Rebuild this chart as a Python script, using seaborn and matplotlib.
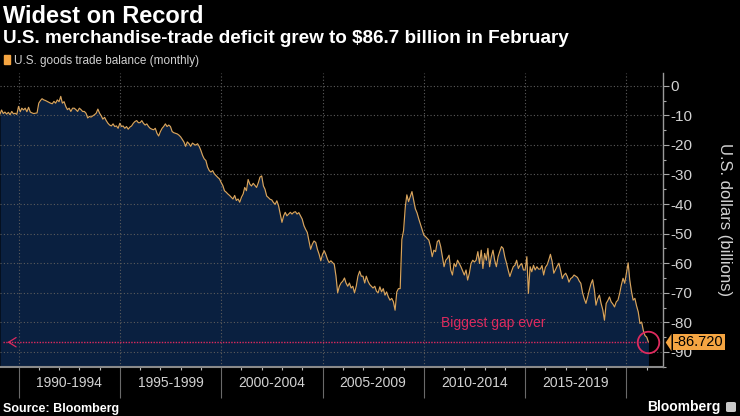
import matplotlib
matplotlib.use("Agg")

import matplotlib.pyplot as plt
import matplotlib.transforms as mtransforms
import matplotlib.dates as mdates
from matplotlib.patches import Patch, FancyBboxPatch
import pandas as pd
import seaborn as sns

# -----------------------------
# DATA (U.S. goods trade balance, monthly, billions of dollars)
# -----------------------------
bal_1989 = [-9.6, -8.2, -9.4, -8.9, -9.6, -9.0, -9.8, -8.7, -9.5, -9.3, -9.7]  # Feb-Dec
bal_1990 = [-7.0, -8.8, -7.6, -8.2, -7.6, -8.8, -7.3, -8.9, -9.2, -9.4, -9.3, -9.2]
bal_1991 = [-5.9, -5.0, -4.4, -4.8, -5.0, -5.3, -5.6, -5.9, -6.1, -5.3, -5.9, -4.8]
bal_1992 = [-5.4, -3.6, -5.9, -5.4, -7.0, -8.1, -7.6, -8.7, -7.6, -7.6, -8.1, -8.7]
bal_1993 = [-7.6, -8.1, -8.7, -8.7, -9.3, -10.9, -10.4, -10.6, -10.2, -9.8, -9.3, -7.9]
bal_1994 = [-9.3, -10.2, -11.3, -10.7, -11.8, -12.7, -13.3, -13.6, -12.9, -13.8, -13.6, -14.4]
bal_1995 = [-12.7, -13.8, -13.6, -14.4, -13.8, -14.7, -14.0, -13.6, -12.7, -12.1, -11.8, -12.5]
bal_1996 = [-12.5, -11.8, -12.7, -13.3, -12.9, -13.8, -14.4, -14.7, -14.9, -14.4, -16.1, -17.0]
bal_1997 = [-15.5, -14.4, -13.8, -12.9, -13.8, -13.3, -13.8, -15.5, -15.9, -16.1, -16.3, -16.7]
bal_1998 = [-17.3, -18.2, -19.0, -20.5, -19.0, -19.6, -20.5, -19.4, -19.8, -20.1, -19.6, -20.5]
bal_1999 = [-21.9, -23.6, -24.7, -25.3, -27.5, -28.7, -29.2, -28.7, -29.8, -30.4, -31.0, -31.5]
bal_2000 = [-32.7, -33.8, -35.5, -36.0, -36.6, -37.1, -37.7, -38.3, -37.1, -38.8, -38.3, -39.4]
bal_2001 = [-37.7, -36.6, -34.4, -35.5, -31.7, -33.3, -33.9, -33.0, -33.7, -34.4, -32.8, -30.9]
bal_2002 = [-30.5, -33.9, -35.0, -37.3, -37.8, -38.4, -38.6, -39.5, -40.1, -38.9, -40.6, -43.4]
bal_2003 = [-46.2, -44.0, -42.8, -44.0, -43.4, -42.8, -43.4, -42.8, -42.6, -43.4, -42.9, -44.0]
bal_2004 = [-45.1, -47.3, -48.5, -49.6, -52.5, -55.3, -53.6, -52.5, -53.0, -55.3, -57.0, -59.2]
bal_2005 = [-57.0, -55.8, -57.0, -58.7, -59.8, -59.2, -59.8, -60.4, -64.4, -70.0, -67.8, -66.7]
bal_2006 = [-66.1, -65.0, -66.7, -67.8, -66.7, -68.4, -67.8, -70.0, -67.8, -64.4, -62.7, -64.4]
bal_2007 = [-64.4, -66.7, -64.4, -66.1, -67.2, -67.8, -68.4, -67.8, -69.5, -70.0, -68.0, -69.7]
bal_2008 = [-68.6, -70.8, -69.7, -71.4, -72.5, -71.9, -73.0, -75.9, -69.7, -68.6, -68.6, -52.0]
bal_2009 = [-49.0, -41.0, -36.9, -39.2, -37.5, -35.8, -38.6, -41.6, -43.0, -45.0, -46.8, -48.6]
bal_2010 = [-50.5, -51.0, -51.6, -52.2, -54.4, -57.8, -55.6, -56.1, -52.7, -52.2, -54.4, -57.8]
bal_2011 = [-61.2, -59.0, -58.4, -57.3, -62.3, -64.0, -60.1, -61.2, -59.0, -60.1, -61.2, -62.6]
bal_2012 = [-64.0, -62.3, -65.7, -63.4, -60.1, -59.0, -59.6, -59.0, -56.1, -60.1, -55.6, -61.8]
bal_2013 = [-56.7, -59.0, -55.0, -61.2, -57.8, -55.6, -59.0, -61.2, -57.8, -56.0, -54.4, -55.0]
bal_2014 = [-58.0, -60.1, -62.3, -64.5, -62.8, -61.2, -60.7, -59.0, -61.8, -60.7, -60.1, -62.3]
bal_2015 = [-62.3, -57.8, -70.2, -61.2, -62.9, -60.7, -62.3, -61.2, -62.0, -62.0, -60.8, -64.0]
bal_2016 = [-61.4, -60.6, -59.0, -57.0, -59.4, -63.4, -62.2, -61.0, -60.0, -62.4, -65.2, -64.0]
bal_2017 = [-63.4, -64.6, -66.4, -65.2, -64.8, -64.0, -64.4, -64.8, -66.0, -66.8, -70.0, -72.0]
bal_2018 = [-73.6, -71.4, -69.2, -67.0, -65.6, -69.0, -74.2, -72.0, -70.8, -73.6, -75.8, -79.3]
bal_2019 = [-73.6, -72.6, -71.4, -73.1, -73.8, -74.8, -73.1, -72.5, -70.2, -67.4, -65.1, -66.8]
bal_2020 = [-63.4, -59.9, -65.7, -69.6, -72.5, -71.9, -74.4, -76.5, -80.4, -79.9, -82.8, -84.5]
bal_2021 = [-85.0, -86.72]  # Jan-Feb

first_month = "1989-02-01"

period_starts = [1990, 1995, 2000, 2005, 2010, 2015]
period_labels = ["1990-1994", "1995-1999", "2000-2004", "2005-2009", "2010-2014", "2015-2019"]

ytick_values = [0, -10, -20, -30, -40, -50, -60, -70, -80, -90]
ytick_labels = ["0", "-10", "-20", "-30", "-40", "-50", "-60", "-70", "-80", "-90"]

# -----------------------------
# STYLE
# -----------------------------
BG = "black"
FILL = "#0a2040"
LINE = "#d9a45c"
ORANGE = "#f5a542"
RED = "#de2a5e"
TXT = "#d2d2d2"

balance = (bal_1989 + bal_1990 + bal_1991 + bal_1992 + bal_1993 + bal_1994 + bal_1995
           + bal_1996 + bal_1997 + bal_1998 + bal_1999 + bal_2000 + bal_2001 + bal_2002
           + bal_2003 + bal_2004 + bal_2005 + bal_2006 + bal_2007 + bal_2008 + bal_2009
           + bal_2010 + bal_2011 + bal_2012 + bal_2013 + bal_2014 + bal_2015 + bal_2016
           + bal_2017 + bal_2018 + bal_2019 + bal_2020 + bal_2021)
df = pd.DataFrame({
    "month": pd.date_range(first_month, periods=len(balance), freq="MS"),
    "balance": balance,
})

sns.set_theme(style="ticks")
plt.rcParams["font.family"] = ["Liberation Sans", "DejaVu Sans"]
plt.rcParams["axes.unicode_minus"] = False

fig = plt.figure(figsize=(7.4, 4.16), dpi=100, facecolor=BG)
ax = fig.add_axes([0, 49 / 416, 663 / 740, 294 / 416])
ax.set_facecolor(BG)

y_bottom, y_top = -95.1, 4.3
ax.fill_between(df["month"], df["balance"], y_bottom, color=FILL, lw=0, zorder=0.3)
sns.lineplot(data=df, x="month", y="balance", ax=ax, color=LINE, linewidth=0.85, zorder=2)

ax.set_xlim(pd.Timestamp(first_month), pd.Timestamp("2021-10-21"))
ax.set_ylim(y_bottom, y_top)
ax.set_xlabel("")

# x axis: 5-year blocks with long separators, yearly minor ticks
major_x = pd.to_datetime([f"{y}-01-01" for y in range(1990, 2021, 5)])
minor_x = pd.to_datetime([f"{y}-01-01" for y in range(1990, 2022)])
ax.set_xticks(major_x)
ax.set_xticklabels([])
ax.set_xticks(minor_x, minor=True)
ax.tick_params(axis="x", which="major", length=22, width=0.8, color="#6a6a6a", direction="out")
ax.tick_params(axis="x", which="minor", length=2.5, width=0.8, color="#bbbbbb", direction="out")

trans = mtransforms.blended_transform_factory(ax.transData, ax.transAxes)
for start, lab in zip(period_starts, period_labels):
    mid = mdates.date2num(pd.Timestamp(f"{start + 2}-07-01"))
    ax.text(mid, -0.054, lab, transform=trans, ha="center", va="center",
            color=TXT, fontsize=10)

# y axis on the right
ax.yaxis.tick_right()
ax.set_yticks(ytick_values, ytick_labels)
ax.set_yticks([v - 5 for v in ytick_values], minor=True)
ax.tick_params(axis="y", which="major", length=4, width=0.8, color="#aaaaaa",
               labelcolor=TXT, labelsize=11, pad=1.5, direction="out")
ax.tick_params(axis="y", which="minor", length=2.5, width=0.8, color="#aaaaaa", direction="out")
ax.set_ylabel("U.S. dollars (billions)", fontsize=12, color=TXT)
ax.yaxis.set_label_position("right")
ax.yaxis.label.set_rotation(270)
ax.yaxis.label.set_rotation_mode("default")
ax.yaxis.label.set_verticalalignment("center")
ax.yaxis.set_label_coords(1.0935, 0.5)

ax.grid(True, which="major", color="#5c5c5c", linestyle=(0, (1, 2)), linewidth=0.8)
for side in ["top", "left"]:
    ax.spines[side].set_visible(False)
ax.spines["right"].set_color("#9a9a9a")
ax.spines["right"].set_linewidth(1.0)
ax.spines["bottom"].set_color("#8a8a8a")
ax.spines["bottom"].set_linewidth(1.5)

# -----------------------------
# ANNOTATIONS
# -----------------------------
last_month = df["month"].iloc[-1]
last_val = df["balance"].iloc[-1]
blend = mtransforms.blended_transform_factory(ax.transAxes, ax.transData)

ax.plot([pd.Timestamp("1989-04-01"), last_month], [last_val, last_val],
        color=RED, lw=1.0, linestyle=(0, (1, 1)), zorder=3)
ax.annotate("", xy=(0.007, last_val), xycoords=blend, xytext=(0.02, last_val), textcoords=blend,
            arrowprops=dict(arrowstyle="->,head_length=0.45,head_width=0.28", color=RED, lw=0.9))
ax.plot([last_month], [last_val], marker="o", markersize=15.5, mfc="none", mec=RED,
        mew=1.3, zorder=4, clip_on=False)
ax.text(mdates.date2num(pd.Timestamp("2010-11-01")), -81.6, "Biggest gap ever",
        color=RED, fontsize=10, ha="left", va="baseline")

# current value tag on the right axis (covers the top of the -90 label, as in the source)
ax.plot([1.0121], [last_val], transform=blend, marker=[(-1, 0), (0, 1.5), (0, -1.5)],
        markersize=12.5, color=ORANGE, mec="none", clip_on=False, zorder=5)
ax.text(1.0163, last_val, f"{last_val:.3f}", transform=blend, ha="left", va="center",
        fontsize=10.5, color="black", zorder=6, clip_on=False,
        bbox=dict(boxstyle="square,pad=0.08", fc=ORANGE, ec="none"))

# -----------------------------
# TITLES / LEGEND / FOOTER
# -----------------------------
fig.text(3 / 740, 1 - 23 / 416, "Widest on Record", color="white", fontsize=17,
         fontweight="bold", ha="left", va="baseline")
fig.text(3 / 740, 1 - 43 / 416, "U.S. merchandise-trade deficit grew to $86.7 billion in February",
         color="white", fontsize=13.6, fontweight="bold", ha="left", va="baseline")
ax.legend(handles=[Patch(color=ORANGE, label="U.S. goods trade balance (monthly)")],
          loc="upper left", bbox_to_anchor=(4 / 740, 1 - 55 / 416), bbox_transform=fig.transFigure,
          frameon=False, fontsize=8.5, labelcolor=TXT, handlelength=0.55, handleheight=0.8,
          handletextpad=0.3, borderpad=0, borderaxespad=0)
fig.text(3 / 740, 1 - 412 / 416, "Source: Bloomberg", color="white", fontsize=9,
         fontweight="bold", ha="left", va="baseline")
fig.text(720 / 740, 1 - 411 / 416, "Bloomberg", color="white", fontsize=10,
         fontweight="bold", ha="right", va="baseline")
fig.patches.append(FancyBboxPatch((726 / 740, 4 / 416), 10 / 740, 10 / 416,
                                  boxstyle="round,pad=0,rounding_size=0.003",
                                  transform=fig.transFigure, fc="#c8c8c8", ec="none"))

fig.savefig("out.png", dpi=100, facecolor=BG)
plt.close(fig)
